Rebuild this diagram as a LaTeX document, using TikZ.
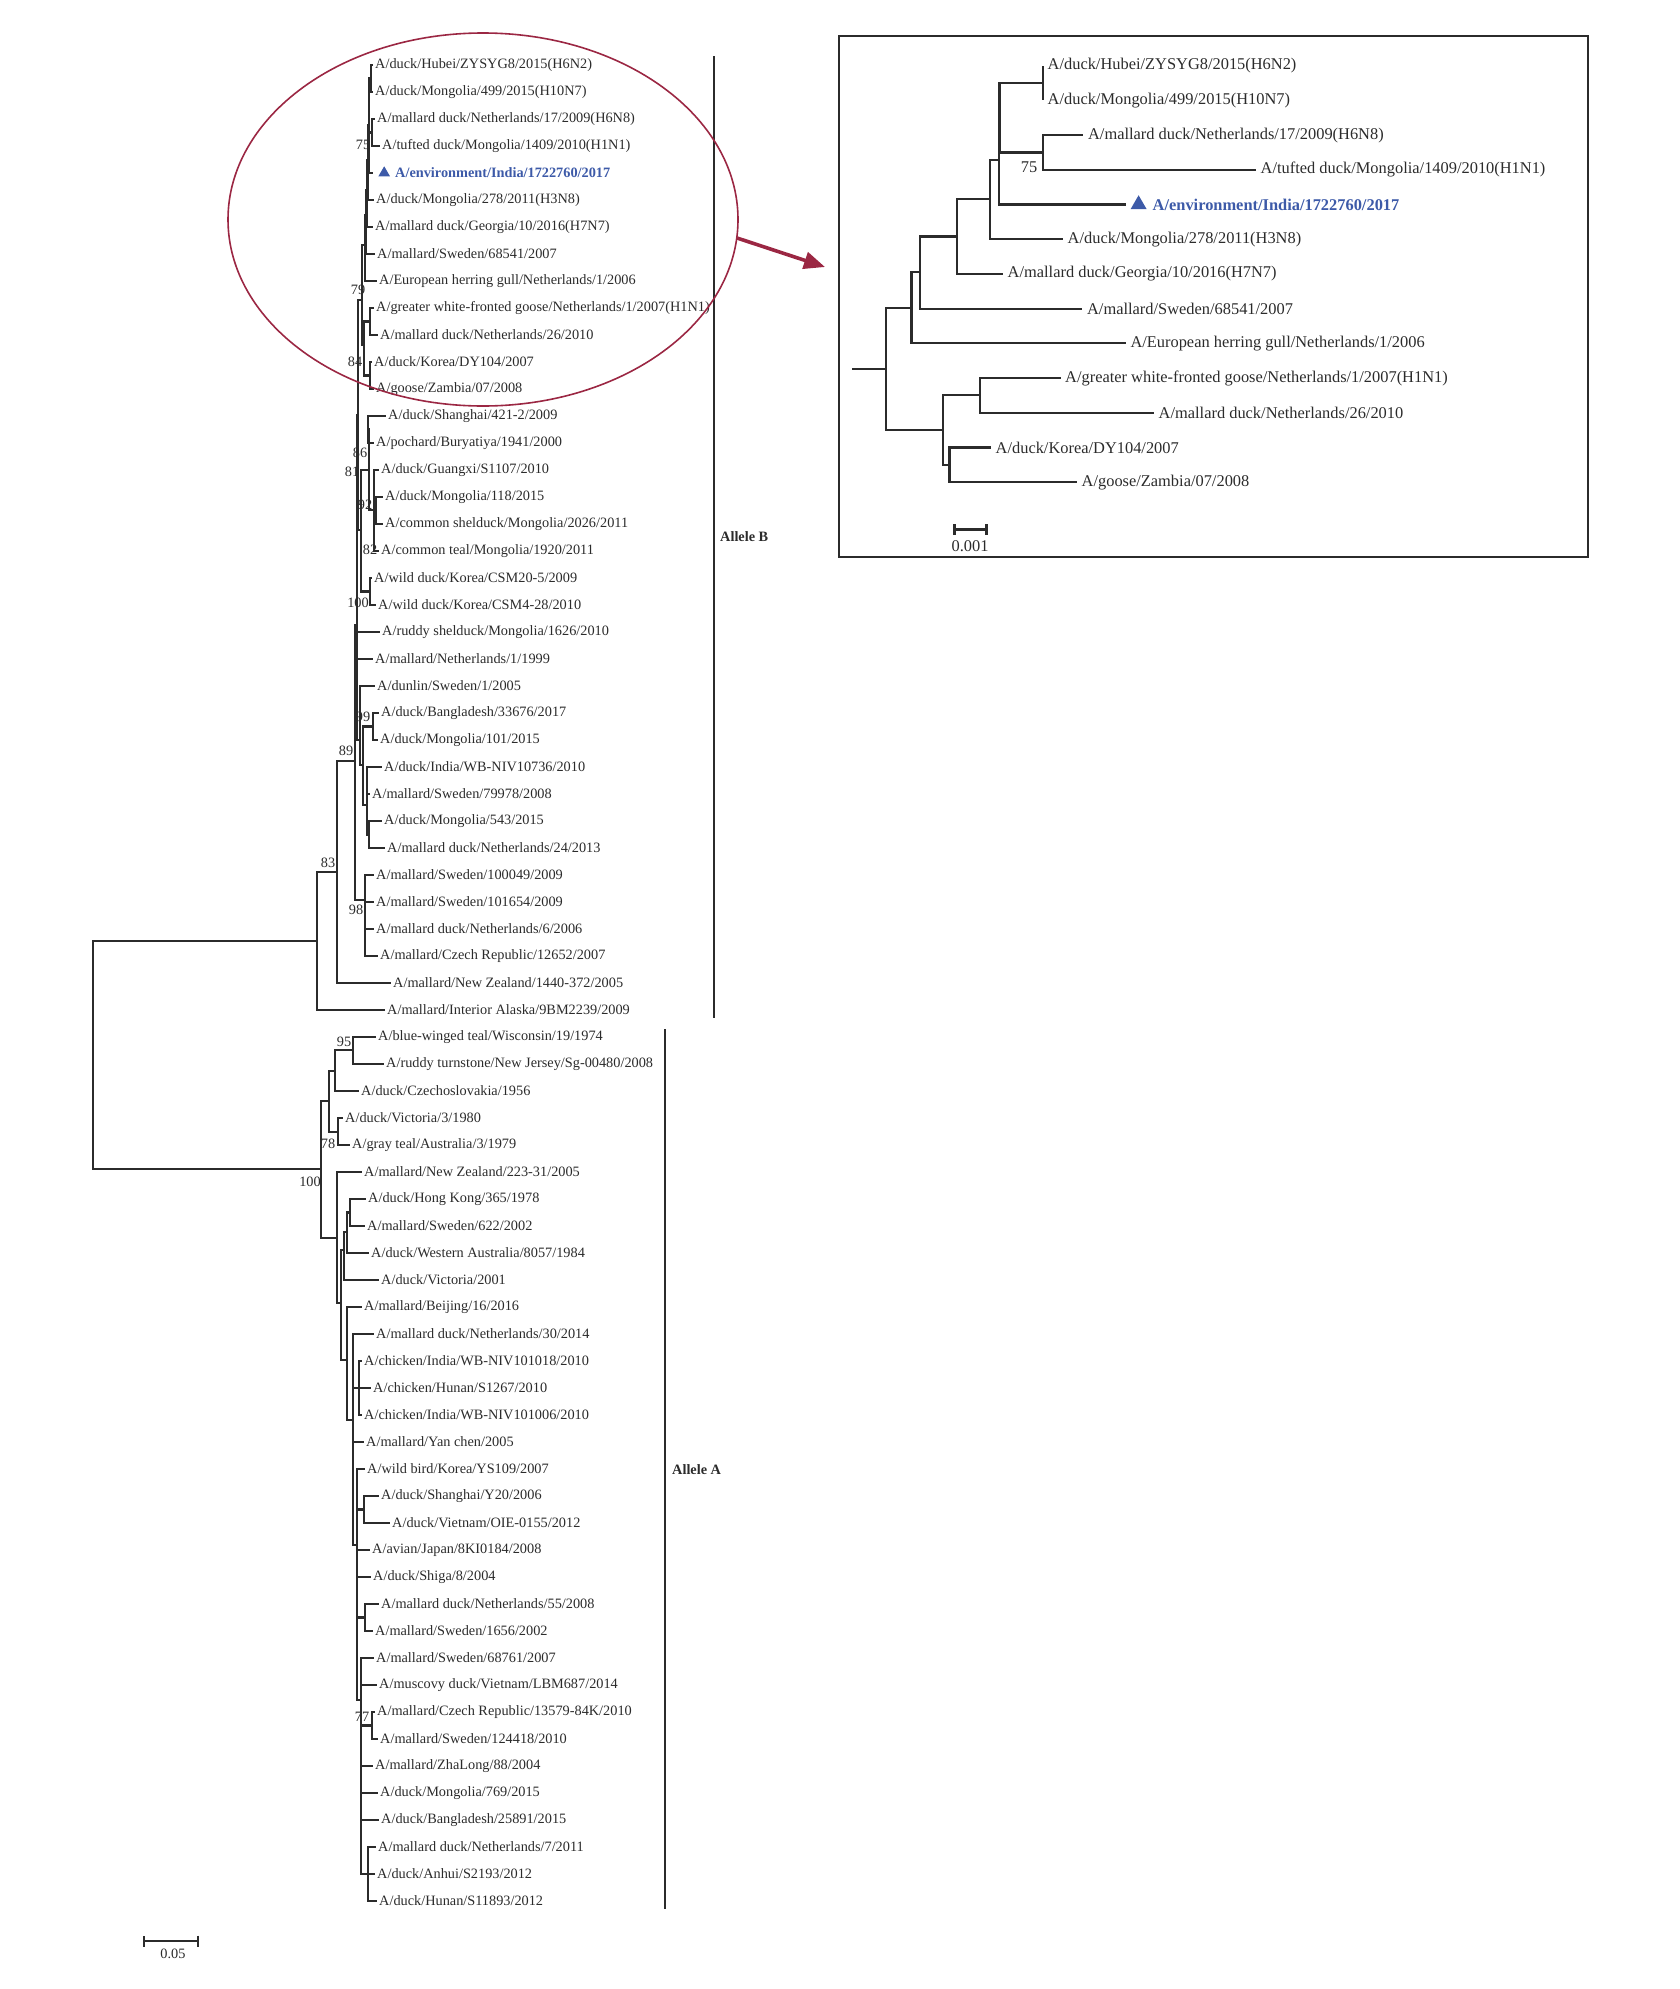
\documentclass[tikz,border=0pt]{standalone}
\usepackage{fontspec}
\setmainfont{Liberation Serif}
\usepackage{xcolor}
\definecolor{tree-ink}{HTML}{2B2B2B}
\definecolor{tree-blue}{HTML}{3D5AA8}
\definecolor{tree-red}{HTML}{9B2743}
\usetikzlibrary{arrows.meta,shapes.geometric}

\tikzset{
  branch/.style={draw=tree-ink, line width=2.2pt},
  taxon/.style={anchor=west, inner xsep=2pt, inner ysep=1pt, text=tree-ink, font=\fontsize{14.3}{16}\selectfont},
  inset-taxon/.style={taxon, inner xsep=4.5pt, font=\fontsize{16.4}{18}\selectfont},
  boot/.style={inner sep=0pt, text=tree-ink, font=\fontsize{14.3}{16}\selectfont},
  inset-boot/.style={boot, font=\fontsize{16.4}{18}\selectfont},
  env-mark/.style={regular polygon, regular polygon sides=3, fill=tree-blue, inner sep=0pt, minimum size=13.5pt, outer sep=6pt},
  env-text/.style={taxon, text=tree-blue, font=\fontsize{14.3}{16}\selectfont\bfseries},
  inset-env-text/.style={env-text, font=\fontsize{16.4}{18}\selectfont\bfseries},
  clade-bar/.style={draw=tree-ink, line width=2.5pt},
  allele/.style={anchor=west, inner xsep=2pt, text=tree-ink, font=\fontsize{14.3}{16}\selectfont\bfseries},
  focus-ring/.style={draw=tree-red, line width=1.6pt},
  zoom-arrow/.style={draw=tree-red, line width=3.6pt, -{Triangle[length=21pt,width=17pt]}},
  inset-frame/.style={draw=tree-ink, line width=2pt},
  scale-bar/.style={draw=tree-ink, line width=2.2pt, {Bar[width=11pt]}-{Bar[width=11pt]}}
}

\begin{document}
\begin{tikzpicture}[x=1pt,y=-1pt]
\useasboundingbox (0,0) rectangle (1680,1989);

% Allele B tips
\node[taxon] (t0) at (373,65) {A/duck/Hubei/ZYSYG8/2015(H6N2)};
\node[taxon] (t1) at (373,92) {A/duck/Mongolia/499/2015(H10N7)};
\node[taxon] (t2) at (375,119) {A/mallard duck/Netherlands/17/2009(H6N8)};
\node[taxon] (t3) at (380,146) {A/tufted duck/Mongolia/1409/2010(H1N1)};
\node[env-mark] (t4) at (384.2,173) {};
\node[env-text] (t4-name) at (393,173) {A/environment/India/1722760/2017};
\node[taxon] (t5) at (374,200) {A/duck/Mongolia/278/2011(H3N8)};
\node[taxon] (t6) at (373,227) {A/mallard duck/Georgia/10/2016(H7N7)};
\node[taxon] (t7) at (375,254) {A/mallard/Sweden/68541/2007};
\node[taxon] (t8) at (377,281) {A/European herring gull/Netherlands/1/2006};
\node[taxon] (t9) at (374,308) {A/greater white-fronted goose/Netherlands/1/2007(H1N1)};
\node[taxon] (t10) at (378,335) {A/mallard duck/Netherlands/26/2010};
\node[taxon] (t11) at (372,362) {A/duck/Korea/DY104/2007};
\node[taxon] (t12) at (374,389) {A/goose/Zambia/07/2008};
\node[taxon] (t13) at (386,416) {A/duck/Shanghai/421-2/2009};
\node[taxon] (t14) at (374,443) {A/pochard/Buryatiya/1941/2000};
\node[taxon] (t15) at (379,470) {A/duck/Guangxi/S1107/2010};
\node[taxon] (t16) at (383,497) {A/duck/Mongolia/118/2015};
\node[taxon] (t17) at (383,524) {A/common shelduck/Mongolia/2026/2011};
\node[taxon] (t18) at (379,551) {A/common teal/Mongolia/1920/2011};
\node[taxon] (t19) at (372,578) {A/wild duck/Korea/CSM20-5/2009};
\node[taxon] (t20) at (376,605) {A/wild duck/Korea/CSM4-28/2010};
\node[taxon] (t21) at (380,632) {A/ruddy shelduck/Mongolia/1626/2010};
\node[taxon] (t22) at (373,659) {A/mallard/Netherlands/1/1999};
\node[taxon] (t23) at (375,686) {A/dunlin/Sweden/1/2005};
\node[taxon] (t24) at (379,713) {A/duck/Bangladesh/33676/2017};
\node[taxon] (t25) at (378,740) {A/duck/Mongolia/101/2015};
\node[taxon] (t26) at (382,767) {A/duck/India/WB-NIV10736/2010};
\node[taxon] (t27) at (370,794) {A/mallard/Sweden/79978/2008};
\node[taxon] (t28) at (382,821) {A/duck/Mongolia/543/2015};
\node[taxon] (t29) at (385,848) {A/mallard duck/Netherlands/24/2013};
\node[taxon] (t30) at (374,875) {A/mallard/Sweden/100049/2009};
\node[taxon] (t31) at (374,902) {A/mallard/Sweden/101654/2009};
\node[taxon] (t32) at (374,929) {A/mallard duck/Netherlands/6/2006};
\node[taxon] (t33) at (378,956) {A/mallard/Czech Republic/12652/2007};
\node[taxon] (t34) at (391,983) {A/mallard/New Zealand/1440-372/2005};
\node[taxon] (t35) at (385,1010) {A/mallard/Interior Alaska/9BM2239/2009};

% Allele A tips
\node[taxon] (t36) at (376,1037) {A/blue-winged teal/Wisconsin/19/1974};
\node[taxon] (t37) at (384,1064) {A/ruddy turnstone/New Jersey/Sg-00480/2008};
\node[taxon] (t38) at (359,1091) {A/duck/Czechoslovakia/1956};
\node[taxon] (t39) at (343,1118) {A/duck/Victoria/3/1980};
\node[taxon] (t40) at (350,1145) {A/gray teal/Australia/3/1979};
\node[taxon] (t41) at (362,1172) {A/mallard/New Zealand/223-31/2005};
\node[taxon] (t42) at (366,1199) {A/duck/Hong Kong/365/1978};
\node[taxon] (t43) at (365,1226) {A/mallard/Sweden/622/2002};
\node[taxon] (t44) at (369,1253) {A/duck/Western Australia/8057/1984};
\node[taxon] (t45) at (379,1280) {A/duck/Victoria/2001};
\node[taxon] (t46) at (362,1307) {A/mallard/Beijing/16/2016};
\node[taxon] (t47) at (374,1334) {A/mallard duck/Netherlands/30/2014};
\node[taxon] (t48) at (362,1361) {A/chicken/India/WB-NIV101018/2010};
\node[taxon] (t49) at (371,1388) {A/chicken/Hunan/S1267/2010};
\node[taxon] (t50) at (362,1415) {A/chicken/India/WB-NIV101006/2010};
\node[taxon] (t51) at (364,1442) {A/mallard/Yan chen/2005};
\node[taxon] (t52) at (365,1469) {A/wild bird/Korea/YS109/2007};
\node[taxon] (t53) at (379,1496) {A/duck/Shanghai/Y20/2006};
\node[taxon] (t54) at (390,1523) {A/duck/Vietnam/OIE-0155/2012};
\node[taxon] (t55) at (370,1550) {A/avian/Japan/8KI0184/2008};
\node[taxon] (t56) at (371,1577) {A/duck/Shiga/8/2004};
\node[taxon] (t57) at (379,1604) {A/mallard duck/Netherlands/55/2008};
\node[taxon] (t58) at (373,1631) {A/mallard/Sweden/1656/2002};
\node[taxon] (t59) at (374,1658) {A/mallard/Sweden/68761/2007};
\node[taxon] (t60) at (377,1685) {A/muscovy duck/Vietnam/LBM687/2014};
\node[taxon] (t61) at (375,1712) {A/mallard/Czech Republic/13579-84K/2010};
\node[taxon] (t62) at (378,1739) {A/mallard/Sweden/124418/2010};
\node[taxon] (t63) at (373,1766) {A/mallard/ZhaLong/88/2004};
\node[taxon] (t64) at (378,1793) {A/duck/Mongolia/769/2015};
\node[taxon] (t65) at (379,1820) {A/duck/Bangladesh/25891/2015};
\node[taxon] (t66) at (376,1847) {A/mallard duck/Netherlands/7/2011};
\node[taxon] (t67) at (375,1874) {A/duck/Anhui/S2193/2012};
\node[taxon] (t68) at (377,1901) {A/duck/Hunan/S11893/2012};

% Internal nodes
\coordinate (root) at (93,1055);
\coordinate (b0) at (317,941);
\coordinate (b1) at (337,872);
\coordinate (b2) at (355,761);
\coordinate (bu) at (357,625);
\coordinate (bp) at (358,415);
\coordinate (bj) at (362,300);
\coordinate (bf) at (365,245);
\coordinate (be) at (366,215);
\coordinate (bd) at (367,190);
\coordinate (bc) at (368,160);
\coordinate (bb) at (369,125);
\coordinate (ba) at (371,78.5);
\coordinate (b75) at (372,132.5);
\coordinate (bi) at (364,345);
\coordinate (bg) at (370,321.5);
\coordinate (bh) at (370,375.5);
\coordinate (bo) at (361,530);
\coordinate (bm) at (369,470);
\coordinate (bk) at (368,429.5);
\coordinate (bl) at (374,510);
\coordinate (bl1) at (376,510.5);
\coordinate (bn) at (370,591.5);
\coordinate (bt) at (360,740);
\coordinate (bs) at (363,765);
\coordinate (b99) at (373,726.5);
\coordinate (br) at (367,805);
\coordinate (bq) at (369,834.5);
\coordinate (b98) at (365,900);
\coordinate (a0) at (321,1169);
\coordinate (a1) at (329,1101);
\coordinate (a2) at (335,1071);
\coordinate (a95) at (353,1050);
\coordinate (a78) at (338,1132);
\coordinate (a3) at (337,1238);
\coordinate (a4) at (341,1303);
\coordinate (a5) at (344,1250);
\coordinate (a5a) at (347,1232);
\coordinate (ahk) at (350,1212.5);
\coordinate (a6) at (347,1360);
\coordinate (a7) at (353,1420);
\coordinate (a48) at (359,1388);
\coordinate (a8) at (357,1545);
\coordinate (ash) at (364,1509.5);
\coordinate (a57) at (365,1617.5);
\coordinate (a9) at (361,1700);
\coordinate (a77) at (372,1725.5);
\coordinate (aan) at (368,1874);

% Branches
\draw[branch] (root) |- (b0) (root) |- (a0);
\draw[branch] (b0) |- (b1) (b0) |- (t35.west);
\draw[branch] (b1) |- (b2) (b1) |- (t34.west);
\draw[branch] (b2) |- (bu) (b2) |- (b98);
\draw[branch] (bu) |- (bp) (bu) |- (t21.west) (bu) |- (t22.west) (bu) |- (bt);
\draw[branch] (bp) |- (bj) (bp) |- (bo);
\draw[branch] (bj) |- (bf) (bj) |- (bi);
\draw[branch] (bf) |- (be) (bf) |- (t8.west);
\draw[branch] (be) |- (bd) (be) |- (t7.west);
\draw[branch] (bd) |- (bc) (bd) |- (t6.west);
\draw[branch] (bc) |- (bb) (bc) |- (t5.west);
\draw[branch] (bb) |- (ba) (bb) |- (b75) (bb) |- (t4.west);
\draw[branch] (ba) |- (t0.west) (ba) |- (t1.west);
\draw[branch] (b75) |- (t2.west) (b75) |- (t3.west);
\draw[branch] (bi) |- (bg) (bi) |- (bh);
\draw[branch] (bg) |- (t9.west) (bg) |- (t10.west);
\draw[branch] (bh) |- (t11.west) (bh) |- (t12.west);
\draw[branch] (bo) |- (bm) (bo) |- (bn);
\draw[branch] (bm) |- (bk) (bm) |- (bl);
\draw[branch] (bk) |- (t13.west) (bk) |- (t14.west);
\draw[branch] (bl) |- (t15.west) (bl) |- (bl1) (bl) |- (t18.west);
\draw[branch] (bl1) |- (t16.west) (bl1) |- (t17.west);
\draw[branch] (bn) |- (t19.west) (bn) |- (t20.west);
\draw[branch] (bt) |- (t23.west) (bt) |- (bs);
\draw[branch] (bs) |- (b99) (bs) |- (br);
\draw[branch] (b99) |- (t24.west) (b99) |- (t25.west);
\draw[branch] (br) |- (t26.west) (br) |- (t27.west) (br) |- (bq);
\draw[branch] (bq) |- (t28.west) (bq) |- (t29.west);
\draw[branch] (b98) |- (t30.west) (b98) |- (t31.west) (b98) |- (t32.west) (b98) |- (t33.west);
\draw[branch] (a0) |- (a1) (a0) |- (a3);
\draw[branch] (a1) |- (a2) (a1) |- (a78);
\draw[branch] (a2) |- (a95) (a2) |- (t38.west);
\draw[branch] (a95) |- (t36.west) (a95) |- (t37.west);
\draw[branch] (a78) |- (t39.west) (a78) |- (t40.west);
\draw[branch] (a3) |- (t41.west) (a3) |- (a4);
\draw[branch] (a4) |- (a5) (a4) |- (a6);
\draw[branch] (a5) |- (a5a) (a5) |- (t45.west);
\draw[branch] (a5a) |- (ahk) (a5a) |- (t44.west);
\draw[branch] (ahk) |- (t42.west) (ahk) |- (t43.west);
\draw[branch] (a6) |- (t46.west) (a6) |- (a7);
\draw[branch] (a7) |- (t47.west) (a7) |- (a48) (a7) |- (t51.west) (a7) |- (a8);
\draw[branch] (a48) |- (t48.west) (a48) |- (t49.west) (a48) |- (t50.west);
\draw[branch] (a8) |- (t52.west) (a8) |- (ash) (a8) |- (t55.west) (a8) |- (t56.west) (a8) |- (a57) (a8) |- (a9);
\draw[branch] (ash) |- (t53.west) (ash) |- (t54.west);
\draw[branch] (a57) |- (t57.west) (a57) |- (t58.west);
\draw[branch] (a9) |- (t59.west) (a9) |- (t60.west) (a9) |- (a77) (a9) |- (t63.west) (a9) |- (t64.west) (a9) |- (t65.west) (a9) |- (aan);
\draw[branch] (a77) |- (t61.west) (a77) |- (t62.west);
\draw[branch] (aan) |- (t66.west) (aan) |- (t67.west) (aan) |- (t68.west);

% Bootstrap values
\node[boot] (bv75) at (363,145) {75};
\node[boot] (bv79) at (358,290) {79};
\node[boot] (bv84) at (355,362) {84};
\node[boot] (bv86) at (360,453) {86};
\node[boot] (bv81) at (352,472) {81};
\node[boot] (bv92) at (365,505) {92};
\node[boot] (bv82) at (370,550) {82};
\node[boot] (bv100b) at (358,603) {100};
\node[boot] (bv99) at (363,717) {99};
\node[boot] (bv89) at (346,751) {89};
\node[boot] (bv83) at (328,863) {83};
\node[boot] (bv98) at (356,910) {98};
\node[boot] (bv95) at (344,1042) {95};
\node[boot] (bv78) at (328,1144) {78};
\node[boot] (bv100a) at (310,1182) {100};
\node[boot] (bv77) at (362,1717) {77};

% Allele bars
\coordinate (bar-b-top) at (714,56);
\coordinate (bar-b-bot) at (714,1018);
\coordinate (bar-a-top) at (665,1029);
\coordinate (bar-a-bot) at (665,1909);
\draw[clade-bar] (bar-b-top) -- (bar-b-bot);
\draw[clade-bar] (bar-a-top) -- (bar-a-bot);
\node[allele] (lab-b) at (718,537) {Allele B};
\node[allele] (lab-a) at (670,1470) {Allele A};

% Scale bar
\coordinate (sb-l) at (142.7,1941);
\coordinate (sb-r) at (199,1941);
\draw[scale-bar] (sb-l) -- (sb-r);
\node[boot] (sb-lab) at (173,1954) {0.05};

% Focus ring and zoom arrow
\draw[focus-ring] (483,219.5) ellipse [x radius=255pt, y radius=186.5pt];
\coordinate (zoom-from) at (737,238);
\coordinate (zoom-to) at (825,267);
\draw[zoom-arrow] (zoom-from) -- (zoom-to);

% Inset frame
\coordinate (inset-nw) at (839,36);
\coordinate (inset-se) at (1588,557);
\draw[inset-frame] (inset-nw) rectangle (inset-se);

% Inset tips
\node[inset-taxon] (s0) at (1043,65.7) {A/duck/Hubei/ZYSYG8/2015(H6N2)};
\node[inset-taxon] (s1) at (1043,100.4) {A/duck/Mongolia/499/2015(H10N7)};
\node[inset-taxon] (s2) at (1083.4,135.1) {A/mallard duck/Netherlands/17/2009(H6N8)};
\node[inset-taxon] (s3) at (1256,169.8) {A/tufted duck/Mongolia/1409/2010(H1N1)};
\node[env-mark, minimum size=18.5pt] (s4) at (1138.6,204.5) {};
\node[inset-env-text] (s4-name) at (1150.5,204.5) {A/environment/India/1722760/2017};
\node[inset-taxon] (s5) at (1063,239.2) {A/duck/Mongolia/278/2011(H3N8)};
\node[inset-taxon] (s6) at (1003,273.9) {A/mallard duck/Georgia/10/2016(H7N7)};
\node[inset-taxon] (s7) at (1082.4,308.6) {A/mallard/Sweden/68541/2007};
\node[inset-taxon] (s8) at (1125.8,343.3) {A/European herring gull/Netherlands/1/2006};
\node[inset-taxon] (s9) at (1060.5,378) {A/greater white-fronted goose/Netherlands/1/2007(H1N1)};
\node[inset-taxon] (s10) at (1154,412.7) {A/mallard duck/Netherlands/26/2010};
\node[inset-taxon] (s11) at (991,447.4) {A/duck/Korea/DY104/2007};
\node[inset-taxon] (s12) at (1077,482.1) {A/goose/Zambia/07/2008};

% Inset internal nodes
\coordinate (i-stub) at (852,369);
\coordinate (i-r) at (886,369);
\coordinate (i-n1) at (911.5,307.7);
\coordinate (i-n2) at (920,272);
\coordinate (i-n3) at (957,236.5);
\coordinate (i-n4) at (990,199);
\coordinate (i-n5) at (999,160);
\coordinate (i-n5a) at (999.5,117.5);
\coordinate (i-n7) at (1043,83);
\coordinate (i-n75) at (1043,152.5);
\coordinate (i-m1) at (943,430);
\coordinate (i-m2) at (979.7,395.3);
\coordinate (i-m3) at (949.5,464.8);

% Inset branches
\draw[branch] (i-stub) -- (i-r);
\draw[branch] (i-r) |- (i-n1) (i-r) |- (i-m1);
\draw[branch] (i-n1) |- (i-n2) (i-n1) |- (s8.west);
\draw[branch] (i-n2) |- (i-n3) (i-n2) |- (s7.west);
\draw[branch] (i-n3) |- (i-n4) (i-n3) |- (s6.west);
\draw[branch] (i-n4) |- (i-n5) (i-n4) |- (s5.west);
\draw[branch] (i-n5) |- (i-n5a) (i-n5) |- (s4.west);
\draw[branch] (i-n5a) |- (i-n7) (i-n5a) |- (i-n75);
\draw[branch] (i-n7) |- (s0.west) (i-n7) |- (s1.west);
\draw[branch] (i-n75) |- (s2.west) (i-n75) |- (s3.west);
\draw[branch] (i-m1) |- (i-m2) (i-m1) |- (i-m3);
\draw[branch] (i-m2) |- (s9.west) (i-m2) |- (s10.west);
\draw[branch] (i-m3) |- (s11.west) (i-m3) |- (s12.west);
\node[inset-boot] (iv75) at (1029,167.6) {75};

% Inset scale bar
\coordinate (isb-l) at (953.4,529.5);
\coordinate (isb-r) at (987.5,529.5);
\draw[scale-bar] (isb-l) -- (isb-r);
\node[inset-boot] (isb-lab) at (970,546.5) {0.001};

\end{tikzpicture}
\end{document}
